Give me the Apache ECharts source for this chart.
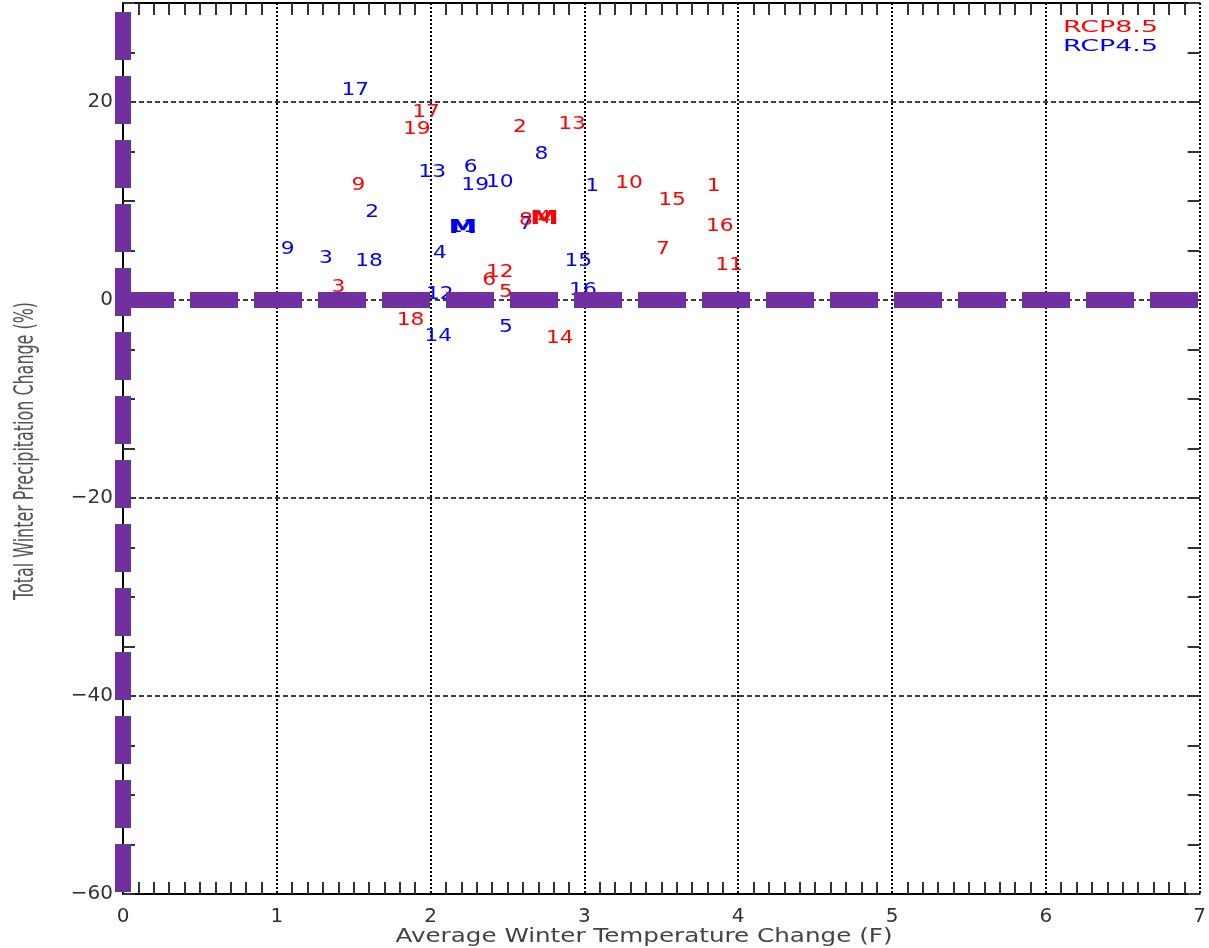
<!DOCTYPE html>
<html><head><meta charset="utf-8">
<script src="https://cdn.jsdelivr.net/npm/echarts@6.0.0/dist/echarts.min.js"></script>
<style>html,body{margin:0;padding:0;background:#fff}#chart{width:1209px;height:948px}</style>
</head><body><div id="chart"></div>
<script>
// ---- data ----
const rcp85Labels = ['1','2','3','4','5','6','7','8','9','10','11','12','13','14','15','16','17','18','19'];
const rcp85X = [3.84, 2.58, 1.40, 2.74, 2.49, 2.38, 3.51, 2.62, 1.53, 3.29, 3.94, 2.45, 2.92, 2.84, 3.57, 3.88, 1.97, 1.87, 1.91];
const rcp85Y = [11.5, 17.4, 1.3, 8.2, 0.7, 2.0, 5.1, 8.0, 11.6, 11.8, 3.5, 2.8, 17.7, -3.9, 10.0, 7.4, 18.9, -2.1, 17.2];

const rcp45Labels = ['1','2','3','4','5','6','7','8','9','10','11','12','13','14','15','16','17','18','19'];
const rcp45X = [3.05, 1.62, 1.32, 2.06, 2.49, 2.26, 2.62, 2.72, 1.07, 2.45, 2.21, 2.06, 2.01, 2.05, 2.96, 2.99, 1.51, 1.60, 2.29];
const rcp45Y = [11.5, 8.8, 4.2, 4.7, -2.8, 13.4, 7.6, 14.7, 5.1, 11.9, 7.3, 0.5, 12.9, -3.7, 3.9, 1.0, 21.2, 3.9, 11.6];

const meanLabels = ['M', 'M'];
const meanX = [2.21, 2.74];   // RCP4.5, RCP8.5
const meanY = [7.3, 8.2];

const legendNames = ['RCP8.5', 'RCP4.5'];
const xTitle = 'Average Winter Temperature Change (F)';
const yTitle = 'Total Winter Precipitation Change (%)';
const xRange = [0, 7];
const yRange = [-60, 30];
const zeroH = [[0, 0], [7, 0]];
const zeroV = [[0, 30], [0, -60]];

// ---- styles ----
const RED = '#ff0000', BLUE = '#0000ff', PURPLE = '#7030a0';
const FF = '"DejaVu Sans"';
const ctx = document.createElement('canvas').getContext('2d');
function textW(t, font) { ctx.font = font; return ctx.measureText(t).width; }

function labelRenderer(labels, colors, font, sx) {
  return function (params, api) {
    const p = api.coord([api.value(0), api.value(1)]);
    const c = Array.isArray(colors) ? colors[params.dataIndex] : colors;
    return {
      type: 'text', x: p[0], y: p[1], scaleX: sx,
      style: { text: labels[params.dataIndex], fill: c, font: font,
               align: 'center', verticalAlign: 'middle', textAlign: 'center', textVerticalAlign: 'middle' }
    };
  };
}

const digitFont = '17px ' + FF;
const mFont = 'bold 20px ' + FF;
const xTitleFont = '19px ' + FF;
const yTitleFont = '18px ' + FF;
const legFont = '15px ' + FF;
const xTitleSx = 497 / textW(xTitle, xTitleFont);
const yTitleSx = 298 / textW(yTitle, yTitleFont);
const legSx = 95 / textW(legendNames[0], legFont);

const tickStyle = { color: '#333', width: 2 };
const chart = echarts.init(document.getElementById('chart'), null, { renderer: 'canvas' });
chart.setOption({
  animation: false,
  backgroundColor: '#fff',
  grid: { left: 123, right: 9, top: 3, bottom: 54, containLabel: false },
  xAxis: [
    { type: 'value', position: 'bottom', min: xRange[0], max: xRange[1], interval: 1,
      axisLine: { onZero: false, lineStyle: { color: '#000', width: 2 } },
      axisTick: { show: false, inside: true },
      minorTick: { show: true, splitNumber: 10, length: 12, lineStyle: tickStyle },
      axisLabel: { margin: 13, fontSize: 20, color: '#333', fontFamily: 'DejaVu Sans' },
      splitLine: { show: true, lineStyle: { color: '#000', width: 2, type: [2, 2] } },
      minorSplitLine: { show: false } },
    { type: 'value', position: 'top', min: xRange[0], max: xRange[1], interval: 1,
      axisLine: { onZero: false, lineStyle: { color: '#000', width: 2 } },
      axisTick: { show: false, inside: true },
      minorTick: { show: true, splitNumber: 10, length: 12, lineStyle: tickStyle },
      axisLabel: { show: false }, splitLine: { show: false } }
  ],
  yAxis: [
    { type: 'value', position: 'left', min: yRange[0], max: yRange[1], interval: 20,
      axisLine: { onZero: false, lineStyle: { color: '#000', width: 2 } },
      axisTick: { show: false },
      axisLabel: { margin: 10, fontSize: 20, color: '#333', fontFamily: 'DejaVu Sans',
        formatter: v => (v === 30 ? '' : String(v).replace('-', '\u2212')) },
      splitLine: { show: true, lineStyle: { color: '#000', width: 1.5, type: [5, 3] } } },
    { type: 'value', position: 'left', min: yRange[0], max: yRange[1], interval: 5,
      axisLine: { show: false, onZero: false },
      axisTick: { show: true, inside: true, length: 12, lineStyle: tickStyle },
      axisLabel: { show: false }, splitLine: { show: false } },
    { type: 'value', position: 'right', min: yRange[0], max: yRange[1], interval: 5,
      axisLine: { show: false, onZero: false },
      axisTick: { show: true, inside: true, length: 12, lineStyle: tickStyle },
      axisLabel: { show: false }, splitLine: { show: false } }
  ],
  series: [
    { type: 'custom', name: 'RCP4.5', z: 2, clip: false, silent: true,
      data: rcp45X.map((x, i) => [x, rcp45Y[i]]), encode: { x: 0, y: 1 },
      renderItem: labelRenderer(rcp45Labels, BLUE, digitFont, 1.28) },
    { type: 'custom', name: 'RCP8.5', z: 3, clip: false, silent: true,
      data: rcp85X.map((x, i) => [x, rcp85Y[i]]), encode: { x: 0, y: 1 },
      renderItem: labelRenderer(rcp85Labels, RED, digitFont, 1.28) },
    { type: 'custom', name: 'Mean', z: 4, clip: false, silent: true,
      data: meanX.map((x, i) => [x, meanY[i]]), encode: { x: 0, y: 1 },
      renderItem: labelRenderer(meanLabels, [BLUE, RED], mFont, 1.45) },
    { type: 'line', z: 6, clip: false, silent: true, symbol: 'none', data: zeroH,
      lineStyle: { color: PURPLE, width: 16, type: [48, 16], dashOffset: 61, cap: 'butt' } },
    { type: 'line', z: 6, clip: false, silent: true, symbol: 'none', data: zeroV,
      lineStyle: { color: PURPLE, width: 16, type: [48, 16], dashOffset: 55, cap: 'butt' } }
  ],
  graphic: [
    { type: 'text', x: 644, y: 937, scaleX: xTitleSx, z: 10,
      style: { text: xTitle, font: xTitleFont, fill: '#444', align: 'center', verticalAlign: 'middle' } },
    { type: 'text', x: 26, y: 451, rotation: Math.PI / 2, scaleX: yTitleSx, scaleY: 1.5, z: 10,
      style: { text: yTitle, font: yTitleFont, fill: '#555', align: 'center', verticalAlign: 'middle' } },
    { type: 'text', x: 1063, y: 28, scaleX: legSx, z: 10,
      style: { text: legendNames[0], font: legFont, fill: RED, align: 'left', verticalAlign: 'middle' } },
    { type: 'text', x: 1063, y: 47, scaleX: legSx, z: 10,
      style: { text: legendNames[1], font: legFont, fill: BLUE, align: 'left', verticalAlign: 'middle' } }
  ]
});
</script></body></html>
